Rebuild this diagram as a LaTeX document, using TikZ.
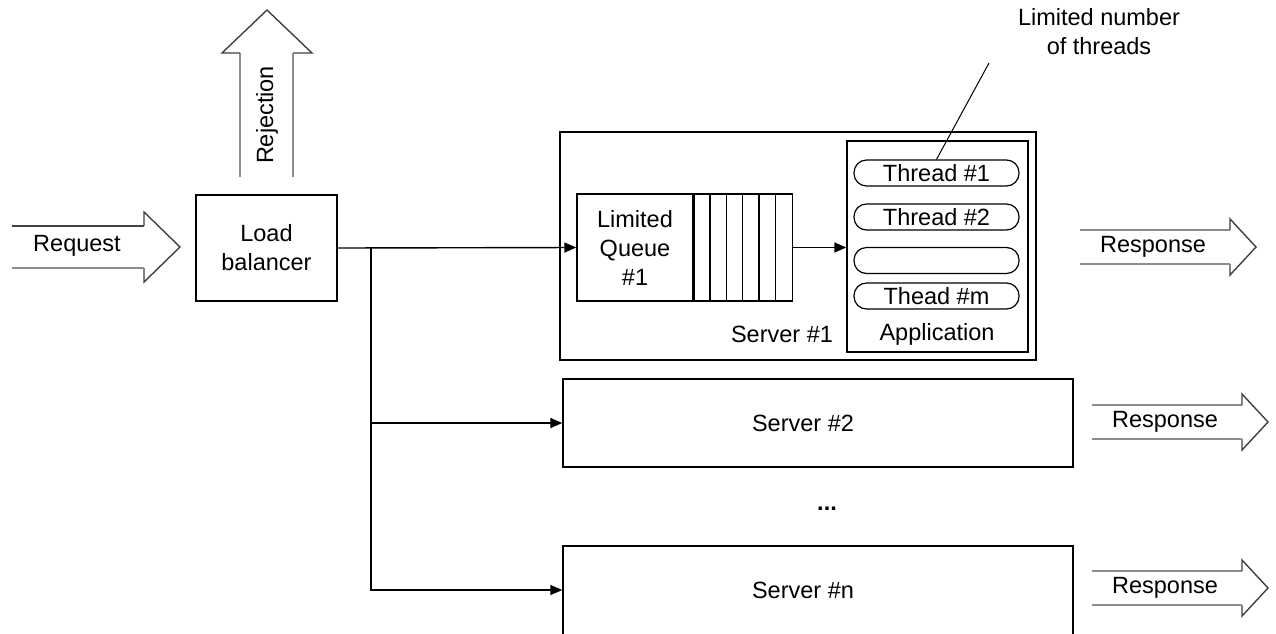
\documentclass[tikz,border=0pt]{standalone}
\usepackage{fontspec}
\setmainfont{Liberation Sans}
\usetikzlibrary{arrows.meta,calc}
\begin{document}
\begin{tikzpicture}[x=1pt,y=-1pt,
  box/.style={draw, line width=1.4pt, inner sep=0pt},
  lbl/.style={font=\fontsize{23.5}{29}\selectfont, align=center, inner sep=0pt},
  link/.style={line width=1.4pt, -{Triangle[length=12pt,width=10pt]}},
  shaftline/.style={line width=1.6pt, draw=black!45},
  headline/.style={line width=1.4pt, draw=black!75, line join=miter},
  thread/.style={draw, line width=1.2pt, rounded corners=12.5pt, minimum width=165pt, minimum height=26pt, inner sep=0pt},
  response/.pic={
    \draw[shaftline] (150,-17) -- (0,-17);
    \draw[headline] (150,-17) -- (150,-28) -- (176,0) -- (150,28) -- (150,17);
    \draw[shaftline] (150,17) -- (0,17);
    \node[lbl] (-text) at (73,0) {Response};
  }]
\useasboundingbox (0,0) rectangle (1276,633);
\begin{scope}
\clip (0,0) rectangle (1276,633);

% incoming request
\draw[headline] (12,226) -- (144,226);
\draw[headline] (144,226) -- (144,212) -- (180,247) -- (144,282) -- (144,268);
\draw[shaftline] (144,268) -- (12,268);
\node[lbl] (req) at (77,246) {Request};

% load balancer and rejection
\node[box, lbl, minimum width=141pt, minimum height=106pt] (lb) at (266.5,248) {Load\\balancer};
\draw[shaftline] (240,177) -- (240,53);
\draw[headline] (240,53) -- (222,53) -- (267,10) -- (312,53) -- (293,53);
\draw[shaftline] (293,53) -- (293,177);
\node[lbl, rotate=90] (rej) at (267,115) {Rejection};

% server #1 with its queue and application
\node[box, minimum width=476pt, minimum height=228pt] (s1) at (798,246) {};
\node[box, lbl, minimum width=116pt, minimum height=107pt] (q) at (635,247.5) {Limited\\Queue\\\#1};
\node[box, minimum width=98pt, minimum height=107pt, anchor=west] (cells) at (q.east) {};
\foreach \i in {1,...,5}
  \draw[line width=1.2pt] ($(cells.north west)+(16.33*\i,0)$) -- ($(cells.south west)+(16.33*\i,0)$);
\node[lbl] (s1text) at (782,334) {Server \#1};
\node[box, minimum width=181pt, minimum height=211pt] (app) at (937.5,246.5) {};
\node[lbl] (apptext) at (937,334) {Application};
\node[thread, lbl] (t1) at (936.5,173) {Thread \#1};
\node[thread, lbl] (t2) at (936.5,217) {Thread \#2};
\node[thread, lbl] (t3) at (936.5,260.5) {};
\node[thread, lbl] (tm) at (936.5,296) {Thead \#m};
\draw[link] (cells.east) -- (cells.east -| app.west);

% annotation
\node[lbl] (note) at (1099,32) {Limited number\\of threads};
\coordinate (lead) at (989,63);
\draw[line width=1pt] (lead) -- (t1.north);

% other servers
\node[box, minimum width=510pt, minimum height=88pt] (s2) at (818,423) {};
\node[lbl] (s2text) at (803,423) {Server \#2};
\node[lbl, font=\fontsize{23.5}{29}\selectfont\bfseries] (dots) at (827,509) {...};
\node[box, minimum width=510pt, minimum height=100pt] (sn) at (818,596) {};
\node[lbl] (sntext) at (803,590) {Server \#n};

% dispatch from the load balancer
\coordinate (trunk) at (371,248);
\draw[link] (lb.east) -- (q.west);
\draw[link] (trunk) |- (s2.west);
\draw[link] (trunk) |- ([yshift=6pt]sn.west);

% responses
\pic (r1) at (1080,247) {response};
\pic (r2) at (1092,422) {response};
\pic (r3) at (1092,588) {response};
\end{scope}
\end{tikzpicture}
\end{document}
